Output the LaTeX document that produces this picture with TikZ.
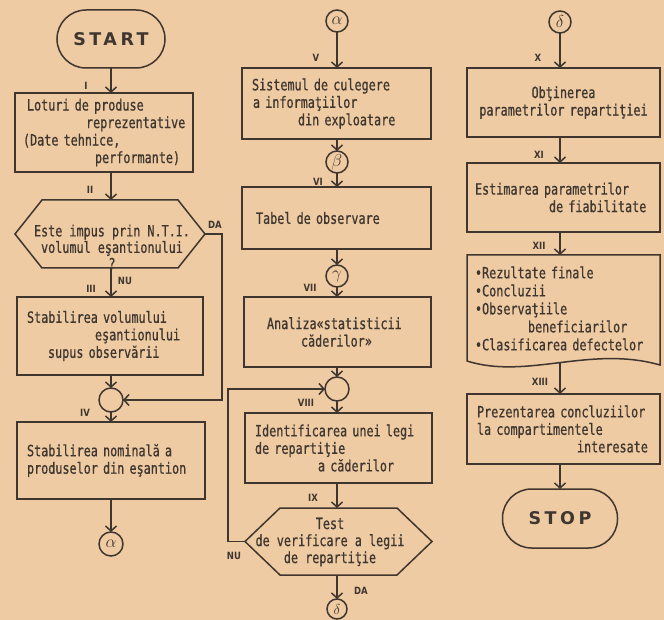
\documentclass[tikz,border=0pt]{standalone}
\usepackage{fontspec}
\setmainfont{DejaVu Sans Mono}[FakeStretch=0.76,FakeBold=0.7]
\newfontfamily\termfont{DejaVu Sans}[LetterSpace=20]
\newfontfamily\labfont{DejaVu Sans}[FakeStretch=0.85]
\usetikzlibrary{arrows.meta,calc}
\definecolor{paper}{RGB}{239,203,163}
\definecolor{ink}{RGB}{62,54,47}
\hyphenpenalty=10000
\exhyphenpenalty=10000
\begin{document}
\begin{tikzpicture}[x=1pt,y=-1pt,
  ln/.style={draw=ink,line width=1.5pt},
  arr/.style={ln,-{Straight Barb[length=5pt,width=11pt]}},
  box/.style={ln,rectangle,outer sep=0pt,inner xsep=8pt,inner ysep=0pt,align=left,text=ink,font=\fontsize{15.5}{17.5}\selectfont},
  term/.style={ln,rectangle,rounded corners=29pt,outer sep=0pt,text=ink,font=\termfont\bfseries\fontsize{17.5}{17.5}\selectfont},
  conn/.style={ln,circle,inner sep=0pt,outer sep=0pt,text=ink},
  hexa/.style={rectangle,outer sep=0pt,inner sep=0pt},
  txt/.style={align=center,text=ink,inner sep=0pt,font=\fontsize{15.5}{17}\selectfont},
  lab/.style={text=ink,inner sep=0pt,font=\labfont\bfseries\fontsize{10}{10}\selectfont}]
\fill[paper] (0,0) rectangle (664,620);
\useasboundingbox (0,0) rectangle (664,620);

% ---------- column 1 ----------
\node[term,minimum width=108pt,minimum height=58pt] (start) at (111,39) {START};
\node[box,minimum width=178pt,minimum height=79pt,text width=162pt] (b1) at (104,132.5)
  {\hspace*{4pt}Loturi de produse\\\hspace*{63pt}\mbox{reprezentative}\\(Date tehnice,\\\hspace*{72pt}performante)};
\node[hexa,minimum width=190pt,minimum height=68pt] (d1) at (110,234) {};
\draw[ln] (d1.west) -- ([xshift=27pt]d1.north west) -- ([xshift=-27pt]d1.north east) -- (d1.east)
  -- ([xshift=-27pt]d1.south east) -- ([xshift=27pt]d1.south west) -- cycle;
\node[txt,font=\fontsize{15.5}{16.5}\selectfont] (d1t) at (112,247) {Este impus prin N.T.I.\\volumul eşantionului\\?};
\node[box,minimum width=186pt,minimum height=78pt,text width=170pt] (b3) at (110,336)
  {\hspace*{2pt}Stabilirea volumului\\\hspace*{70pt}eşantionului\\\hspace*{23pt}supus observării};
\node[conn,minimum size=24pt] (c1) at (111,400) {};
\node[box,minimum width=188pt,minimum height=77pt,text width=172pt] (b4) at (111,460.5)
  {\hspace*{2pt}Stabilirea nominală a\\\hspace*{2pt}produselor din eşantion};
\node[conn,minimum size=24pt] (a1) at (111,544) {\LARGE$\alpha$};

\draw[arr] (start) -- (start |- b1.north);
\draw[arr] (b1.south -| start) -- (start |- d1.north);
\draw[arr] (start |- d1.south) -- (start |- b3.north);
\draw[arr] (b3.south -| c1) -- (c1);
\draw[arr] (d1.east) -- ++(17,0) |- (c1.east);
\draw[arr] (c1) -- (c1 |- b4.north);
\draw[arr] (b4.south -| a1) -- (a1);

\node[lab] (lI) at (86,86) {I};
\node[lab] (lII) at (90,190) {II};
\node[lab] (lDA1) at (215,225) {DA};
\node[lab] (lNU1) at (125,281) {NU};
\node[lab] (lIII) at (91,289) {III};
\node[lab] (lIV) at (85,413) {IV};

% ---------- column 2 ----------
\node[conn,minimum size=22pt] (a2) at (337,21) {\LARGE$\alpha$};
\node[box,minimum width=189pt,minimum height=71pt,text width=173pt] (bV) at (336.5,103.5)
  {\hspace*{2pt}Sistemul de culegere\\\hspace*{3pt}a informaţiilor\\\hspace*{48pt}din exploatare};
\node[conn,minimum size=22pt] (be) at (337,162) {\LARGE$\beta$};
\node[box,minimum width=189pt,minimum height=62pt,text width=173pt] (bVI) at (336.5,218)
  {\hspace*{6pt}Tabel de observare};
\node[conn,minimum size=22pt] (ga) at (337,276) {\LARGE$\gamma$};
\node[box,minimum width=187pt,minimum height=70pt,text width=171pt] (bVII) at (337.5,332)
  {\hspace*{15pt}Analiza«statisticii\\\hspace*{49pt}căderilor»};
\node[conn,minimum size=24pt] (c2) at (337,389) {};
\node[box,minimum width=187pt,minimum height=70pt,text width=171pt] (bVIII) at (338.5,448)
  {\hspace*{2pt}Identificarea unei legi\\\hspace*{2pt}de repartiţie\\\hspace*{65pt}a căderilor};
\node[hexa,minimum width=187pt,minimum height=67pt] (d2) at (338.5,541.5) {};
\draw[ln] (d2.west) -- ([xshift=35pt]d2.north west) -- ([xshift=-35pt]d2.north east) -- (d2.east)
  -- ([xshift=-35pt]d2.south east) -- ([xshift=35pt]d2.south west) -- cycle;
\node[txt] (d2t) at (330,542) {Test\\de verificare a legii\\de repartiţie};
\node[conn,minimum size=20pt] (dl2) at (337,609) {\Large$\delta$};

\draw[arr] (a2) -- (a2 |- bV.north);
\draw[arr] (bV.south -| a2) -- (be);
\draw[arr] (be) -- (be |- bVI.north);
\draw[arr] (bVI.south -| ga) -- (ga);
\draw[arr] (ga) -- (ga |- bVII.north);
\draw[arr] (bVII.south -| c2) -- (c2);
\draw[arr] (c2) -- (c2 |- bVIII.north);
\draw[arr] (bVIII.south -| c2) -- (c2 |- d2.north);
\draw[arr] (d2.west) -- ++(-17,0) |- (c2.west);
\draw[arr] (c2 |- d2.south) -- (dl2);

\node[lab] (lV) at (316,58) {V};
\node[lab] (lVI) at (318,182) {VI};
\node[lab] (lVII) at (310,288) {VII};
\node[lab] (lVIII) at (306,403) {VIII};
\node[lab] (lIX) at (313,498) {IX};
\node[lab] (lNU2) at (234,556) {NU};
\node[lab] (lDA2) at (361,591) {DA};

% ---------- column 3 ----------
\node[conn,minimum size=22pt] (dl3) at (560,22) {\LARGE$\delta$};
\node[box,align=center,minimum width=193pt,minimum height=69pt,text width=177pt] (bX) at (563.5,102.5)
  {Obţinerea\\parametrilor repartiţiei};
\node[box,minimum width=193pt,minimum height=69pt,text width=177pt] (bXI) at (563.5,197.5)
  {Estimarea parametrilor\\\hspace*{74pt}de fiabilitate};
\node[box,draw=none,minimum width=193pt,minimum height=107pt,text width=177pt,font=\fontsize{15.5}{18}\selectfont] (doc) at (563.5,308.5)
  {•Rezultate finale\\•Concluzii\\•Observaţiile\\\hspace*{53pt}beneficiarilor\\•Clasificarea defectelor};
\draw[ln] ($(doc.south west)+(0,-1)$) -- (doc.north west) -- (doc.north east) -- ($(doc.south east)+(0,3)$)
  .. controls ($(doc.south east)+(-70,-17)$) and ($(doc.south west)+(60,18)$) .. ($(doc.south west)+(0,-1)$) -- cycle;
\node[box,minimum width=193pt,minimum height=70pt,text width=177pt] (bXIII) at (563.5,429)
  {\hspace*{2pt}Prezentarea concluziilor\\\hspace*{2pt}la compartimentele\\\hspace*{102pt}interesate};
\node[term,minimum width=115pt,minimum height=59pt] (stop) at (560,518.5) {STOP};

\draw[arr] (dl3) -- (dl3 |- bX.north);
\draw[arr] (bX.south -| dl3) -- (dl3 |- bXI.north);
\draw[arr] (bXI.south -| dl3) -- (dl3 |- doc.north);
\draw[arr] (doc.south -| dl3) -- (dl3 |- bXIII.north);
\draw[arr] (bXIII.south -| dl3) -- (stop);

\node[lab] (lX) at (538,58) {X};
\node[lab] (lXI) at (539,155) {XI};
\node[lab] (lXII) at (539,246) {XII};
\node[lab] (lXIII) at (540,382) {XIII};
\end{tikzpicture}
\end{document}
